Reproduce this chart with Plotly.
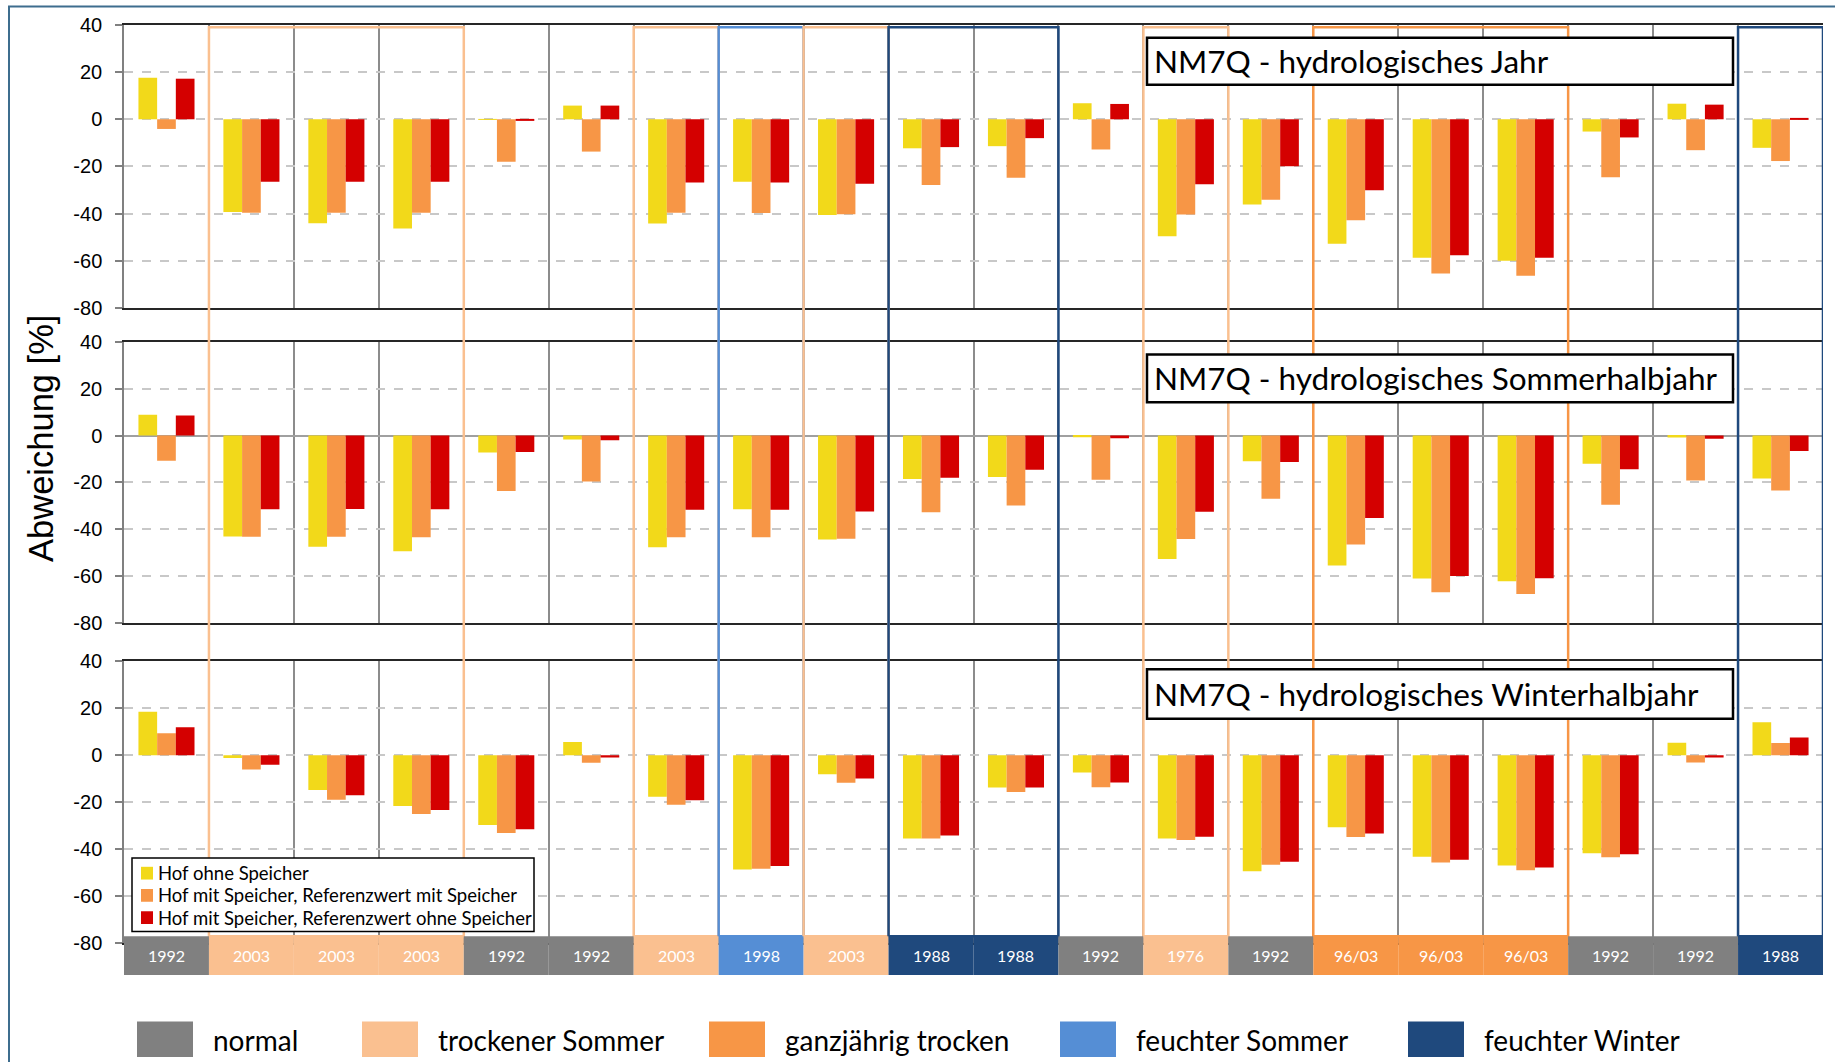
import plotly.graph_objects as go

# ---------------- data ----------------
years = ["1992", "2003", "2003", "2003", "1992", "1992", "2003", "1998", "2003", "1988",
         "1988", "1992", "1976", "1992", "96/03", "96/03", "96/03", "1992", "1992", "1988"]
klass = ["normal", "trockener Sommer", "trockener Sommer", "trockener Sommer", "normal", "normal",
         "trockener Sommer", "feuchter Sommer", "trockener Sommer", "feuchter Winter", "feuchter Winter",
         "normal", "trockener Sommer", "normal", "ganzjährig trocken", "ganzjährig trocken",
         "ganzjährig trocken", "normal", "normal", "feuchter Winter"]

series_names = ["Hof ohne Speicher",
                "Hof mit Speicher, Referenzwert mit Speicher",
                "Hof mit Speicher, Referenzwert ohne Speicher"]
series_colors = ["#F2D91A", "#F79646", "#D40000"]

panel_titles = ["NM7Q - hydrologisches Jahr",
                "NM7Q - hydrologisches Sommerhalbjahr",
                "NM7Q - hydrologisches Winterhalbjahr"]

jahr_ohne = [17.6, -39.3, -44.1, -46.3, -0.2, 5.8, -44.2, -26.5, -40.6, -12.3,
             -11.4, 6.8, -49.6, -36.1, -52.8, -58.7, -60.0, -5.2, 6.6, -12.1]
jahr_mit_mit = [-4.1, -39.6, -39.6, -39.6, -18.0, -13.7, -39.6, -39.7, -40.3, -27.9,
                -24.8, -12.8, -40.4, -34.1, -42.8, -65.4, -66.3, -24.6, -13.1, -17.7]
jahr_mit_ohne = [17.2, -26.5, -26.5, -26.5, -0.4, 5.8, -26.8, -26.8, -27.3, -11.8,
                 -8.0, 6.5, -27.5, -19.9, -30.1, -57.6, -58.7, -7.7, 6.2, 0.4]

sommer_ohne = [8.9, -43.1, -47.5, -49.4, -7.2, -1.7, -47.7, -31.5, -44.4, -18.6,
               -17.7, -0.7, -52.7, -11.0, -55.5, -61.1, -62.3, -12.0, -0.8, -18.3]
sommer_mit_mit = [-10.8, -43.2, -43.2, -43.4, -23.7, -19.6, -43.5, -43.5, -44.1, -32.8,
                  -29.9, -18.9, -44.2, -27.0, -46.5, -67.0, -67.7, -29.6, -19.2, -23.5]
sommer_mit_ohne = [8.6, -31.5, -31.4, -31.5, -7.0, -2.0, -31.7, -31.7, -32.4, -18.0,
                   -14.6, -1.1, -32.6, -11.3, -35.2, -60.0, -61.0, -14.4, -1.4, -6.6]

winter_ohne = [18.6, -1.1, -14.7, -21.6, -29.6, 5.7, -17.6, -48.6, -8.0, -35.4,
               -13.7, -7.3, -35.4, -49.3, -30.6, -43.1, -46.9, -41.7, 5.4, 14.1]
winter_mit_mit = [9.4, -6.0, -18.9, -25.0, -33.0, -3.1, -21.0, -48.3, -11.7, -35.4,
                  -15.6, -13.6, -36.0, -46.6, -34.7, -45.6, -48.9, -43.4, -3.0, 5.3]
winter_mit_ohne = [12.0, -4.0, -17.0, -23.3, -31.4, -0.9, -19.1, -47.1, -9.9, -34.1,
                   -13.7, -11.6, -34.6, -45.3, -33.3, -44.4, -47.7, -42.1, -0.9, 7.6]

class_names = ["normal", "trockener Sommer", "ganzjährig trocken", "feuchter Sommer", "feuchter Winter"]
class_colors = ["#808080", "#FAC090", "#F79646", "#558ED5", "#1F497D"]

y_ticks = [40, 20, 0, -20, -40, -60, -80]

# ---------------- layout geometry ----------------
W, H = 1835, 1062
def py(p):  # pixel y -> paper y
    return 1 - p / H
def px_(x):  # pixel x -> paper x
    return x / W

x_dom = [px_(124), px_(1823)]
y_doms = [[py(303.3), py(14.2)], [py(624.7), py(338.0)], [py(952.1), py(664.1)]]
band_top, band_bot = py(944.9), py(984.3)

panels = [[jahr_ohne, jahr_mit_mit, jahr_mit_ohne],
          [sommer_ohne, sommer_mit_mit, sommer_mit_ohne],
          [winter_ohne, winter_mit_mit, winter_mit_ohne]]

fig = go.Figure()
xs = list(range(len(years)))
for p, pdata in enumerate(panels):
    suffix = "" if p == 0 else str(p + 1)
    for s, vals in enumerate(pdata):
        fig.add_trace(go.Bar(
            x=xs, y=vals, name=series_names[s],
            marker=dict(color=series_colors[s], line=dict(width=0)),
            xaxis="x" + suffix, yaxis="y" + suffix,
            offsetgroup=str(s), showlegend=False,
        ))

font_tick = dict(family="Liberation Sans, Arial", size=20, color="#000000")
layout = dict(
    width=W, height=H, margin=dict(l=0, r=0, t=0, b=0),
    paper_bgcolor="white", plot_bgcolor="white",
    barmode="group", bargap=0.34, bargroupgap=0.0,
    showlegend=False,
)
for p in range(3):
    suffix = "" if p == 0 else str(p + 1)
    layout["xaxis" + suffix] = dict(
        domain=x_dom, range=[-0.5, len(years) - 0.5], anchor="y" + suffix,
        tickvals=[i + 0.5 for i in range(len(years) - 1)], showticklabels=False, ticks="",
        showgrid=True, gridcolor="#8C8C8C", gridwidth=1.5,
        showline=True, mirror=True, linecolor="#262626", linewidth=2, zeroline=False,
    )
    layout["yaxis" + suffix] = dict(
        domain=y_doms[p], range=[-80, 40], anchor="x" + suffix,
        tickvals=y_ticks, ticktext=[str(t) for t in y_ticks], tickfont=font_tick,
        ticks="outside", ticklen=7, tickcolor="#808080", tickwidth=1.5, ticklabelstandoff=9,
        showgrid=True, gridcolor="#C8C8C8", gridwidth=1.5, griddash="dash",
        showline=True, linecolor="#808080", linewidth=1.5,
        zeroline=(p == 1), zerolinecolor="#A0A0A0", zerolinewidth=1.5,
    )
fig.update_layout(**layout)

shapes = []
annotations = []

# outer frame
shapes.append(dict(type="rect", xref="paper", yref="paper", x0=px_(9), x1=px_(1850), y0=py(1090), y1=py(-4.5),
                   line=dict(color="#3E6D8E", width=2), fillcolor="rgba(0,0,0,0)", layer="below"))

# category rectangles (runs of equal non-normal category)
cls_color = dict(zip(class_names, class_colors))
i = 0
while i < len(klass):
    j = i
    while j + 1 < len(klass) and klass[j + 1] == klass[i]:
        j += 1
    if klass[i] != "normal":
        shapes.append(dict(type="rect", xref="x", yref="paper", x0=i - 0.5, x1=j + 0.5,
                           y0=band_top, y1=py(16.5), line=dict(color=cls_color[klass[i]], width=2.5),
                           fillcolor="rgba(0,0,0,0)", layer="above"))
    i = j + 1

# year band
for k, (yr, c) in enumerate(zip(years, klass)):
    shapes.append(dict(type="rect", xref="x3", yref="paper", x0=k - 0.5, x1=k + 0.5,
                       y0=band_bot, y1=band_top, line=dict(width=0), fillcolor=cls_color[c], layer="above"))
    annotations.append(dict(x=k, y=(band_top + band_bot) / 2, xref="x3", yref="paper", text=yr,
                            xanchor="center", yanchor="middle",
                            showarrow=False, font=dict(family="Lato", size=16, color="white")))

# panel title boxes
box_rows = [(27.4, 75.4), (350.8, 399.4), (672.2, 722.6)]
for t, (y0, y1) in zip(panel_titles, box_rows):
    shapes.append(dict(type="rect", xref="paper", yref="paper", x0=px_(1147), x1=px_(1733),
                       y0=py(y1), y1=py(y0), line=dict(color="#000000", width=2.5), fillcolor="white",
                       layer="above"))
    annotations.append(dict(x=px_(1151.5), y=py((y0 + y1) / 2), xref="paper", yref="paper", text=t,
                            xanchor="left", yanchor="middle", showarrow=False,
                            font=dict(family="Lato", size=31.5, color="#000000")))

# series legend (inside bottom panel)
shapes.append(dict(type="rect", xref="paper", yref="paper", x0=px_(132), x1=px_(534),
                   y0=py(940), y1=py(865), line=dict(color="#000000", width=1.5), fillcolor="white",
                   layer="above"))
leg_rows = [880.4, 903.1, 925.8]
for name, col, yy in zip(series_names, series_colors, leg_rows):
    shapes.append(dict(type="rect", xref="paper", yref="paper", x0=px_(141), x1=px_(153),
                       y0=py(yy + 6.5), y1=py(yy - 6.5), line=dict(width=0), fillcolor=col, layer="above"))
    annotations.append(dict(x=px_(156), y=py(yy), xref="paper", yref="paper", text=name,
                            xanchor="left", yanchor="middle", showarrow=False,
                            font=dict(family="Lato", size=18.5, color="#000000")))

# y-axis title
annotations.append(dict(x=px_(41), y=py(437), xref="paper", yref="paper", text="Abweichung [%]",
                        textangle=-90, showarrow=False, xanchor="center", yanchor="middle",
                        font=dict(family="Liberation Sans, Arial", size=34.5, color="#000000")))

# category legend at the bottom
sq_x = [137, 362, 709, 1060, 1408]
for name, col, x0 in zip(class_names, class_colors, sq_x):
    shapes.append(dict(type="rect", xref="paper", yref="paper", x0=px_(x0), x1=px_(x0 + 56),
                       y0=py(1068), y1=py(1032), line=dict(width=0), fillcolor=col))
    annotations.append(dict(x=px_(x0 + 74), y=py(1051), xref="paper", yref="paper", text=name,
                            xanchor="left", yanchor="middle", showarrow=False,
                            font=dict(family="Lato", size=28, color="#000000")))

fig.update_layout(shapes=shapes, annotations=annotations)

fig.write_html("out.html", config={"displayModeBar": False},
               post_script="document.body.style.margin='0';document.body.style.overflow='hidden';")
